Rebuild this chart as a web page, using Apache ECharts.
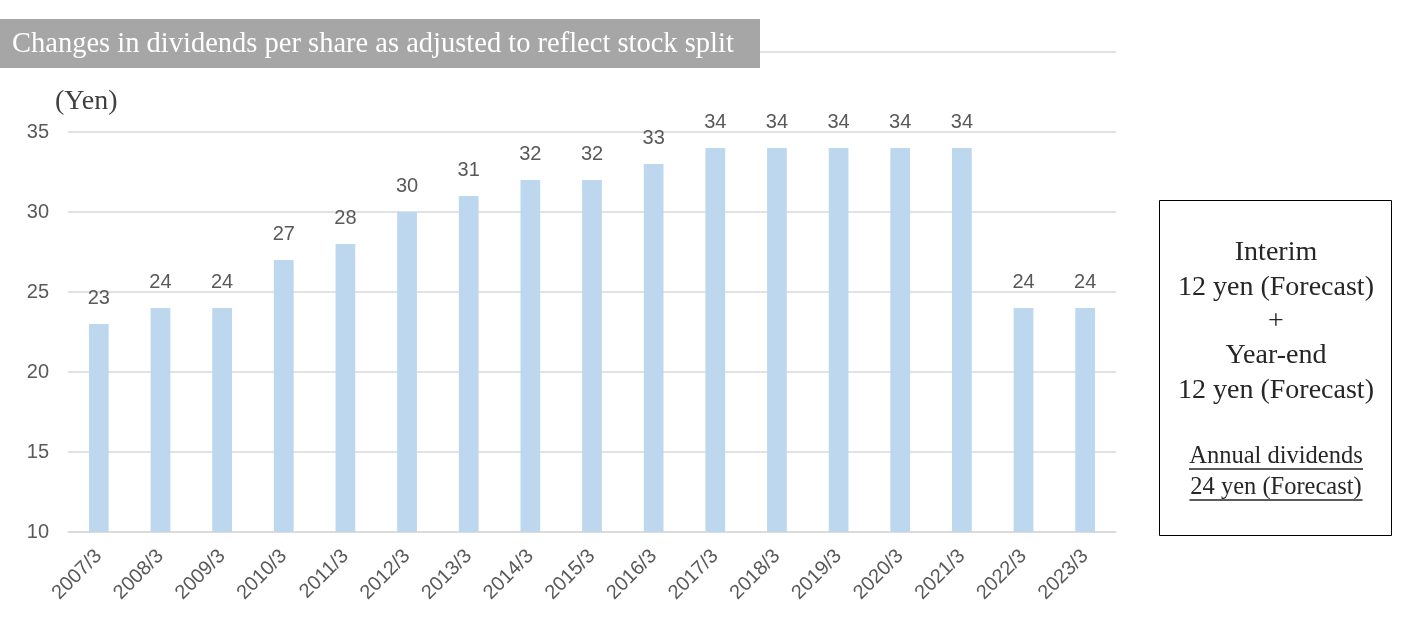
<!DOCTYPE html>
<html><head><meta charset="utf-8">
<script src="https://cdn.jsdelivr.net/npm/echarts@6/dist/echarts.min.js"></script>
<style>html,body{margin:0;padding:0;background:#fff}#c{width:1402px;height:630px}</style>
</head><body><div id="c"></div>
<script>
const categories = ['2007/3','2008/3','2009/3','2010/3','2011/3','2012/3','2013/3','2014/3','2015/3','2016/3','2017/3','2018/3','2019/3','2020/3','2021/3','2022/3','2023/3'];
const dividends = [23,24,24,27,28,30,31,32,32,33,34,34,34,34,34,24,24];
const yTicks = [10,15,20,25,30,35];
const titleText = 'Changes in dividends per share as adjusted to reflect stock split';
const unitText = '(Yen)';
const boxLines = ['Interim','12 yen (Forecast)','+','Year-end','12 yen (Forecast)'];
const boxUnderlined = ['Annual dividends','24 yen (Forecast)'];

const chart = echarts.init(document.getElementById('c'), null, {renderer:'canvas'});
const serif = '"Liberation Serif","DejaVu Serif",serif';
const sans = '"Liberation Sans","Noto Sans",sans-serif';
const graphics = [
  {type:'rect', shape:{x:0,y:19,width:760,height:49}, style:{fill:'#A6A6A6'}},
  {type:'text', x:12, y:45, style:{text:titleText, fill:'#fff', font:'28.5px '+serif, textVerticalAlign:'middle'}},
  {type:'line', shape:{x1:760,y1:52,x2:1116,y2:52}, style:{stroke:'#D9D9D9', lineWidth:1.5}},
  {type:'text', x:55, y:102, style:{text:unitText, fill:'#404040', font:'28px '+serif, textVerticalAlign:'middle'}},
  {type:'rect', shape:{x:1159.5,y:200.5,width:232,height:335}, style:{fill:'none', stroke:'#000', lineWidth:1}}
];
const ys = [253,288,322,356,391];
boxLines.forEach((t,i)=>graphics.push({type:'text', x:1276, y:ys[i], style:{text:t, fill:'#262626', font:'28px '+serif, textAlign:'center', textVerticalAlign:'middle'}}));
const uys = [457,488];
const uw = [174,173];
boxUnderlined.forEach((t,i)=>{
  graphics.push({type:'text', x:1276, y:uys[i], style:{text:t, fill:'#262626', font:'24.5px '+serif, textAlign:'center', textVerticalAlign:'middle'}});
  graphics.push({type:'line', shape:{x1:1276-uw[i]/2,y1:uys[i]+12,x2:1276+uw[i]/2,y2:uys[i]+12}, style:{stroke:'#262626', lineWidth:1.3}});
});

chart.setOption({
  animation:false,
  grid:{left:68, right:1402-1116, top:132, bottom:630-532, containLabel:false},
  xAxis:{type:'category', data:categories,
    axisLine:{lineStyle:{color:'#D9D9D9', width:1.5}}, axisTick:{show:false},
    axisLabel:{rotate:45, color:'#595959', fontSize:20, fontFamily:sans, margin:21, interval:0}},
  yAxis:{type:'value', min:yTicks[0], max:yTicks[yTicks.length-1], interval:5,
    axisLine:{show:false}, axisTick:{show:false},
    axisLabel:{color:'#595959', fontSize:20, fontFamily:sans, margin:19},
    splitLine:{lineStyle:{color:'#D9D9D9', width:1.5}}},
  series:[{type:'bar', data:dividends, barWidth:'32%', itemStyle:{color:'#BDD7EE'},
    label:{show:true, position:'top', color:'#595959', fontSize:20, fontFamily:sans, distance:16}}],
  graphic:graphics
});
</script></body></html>
